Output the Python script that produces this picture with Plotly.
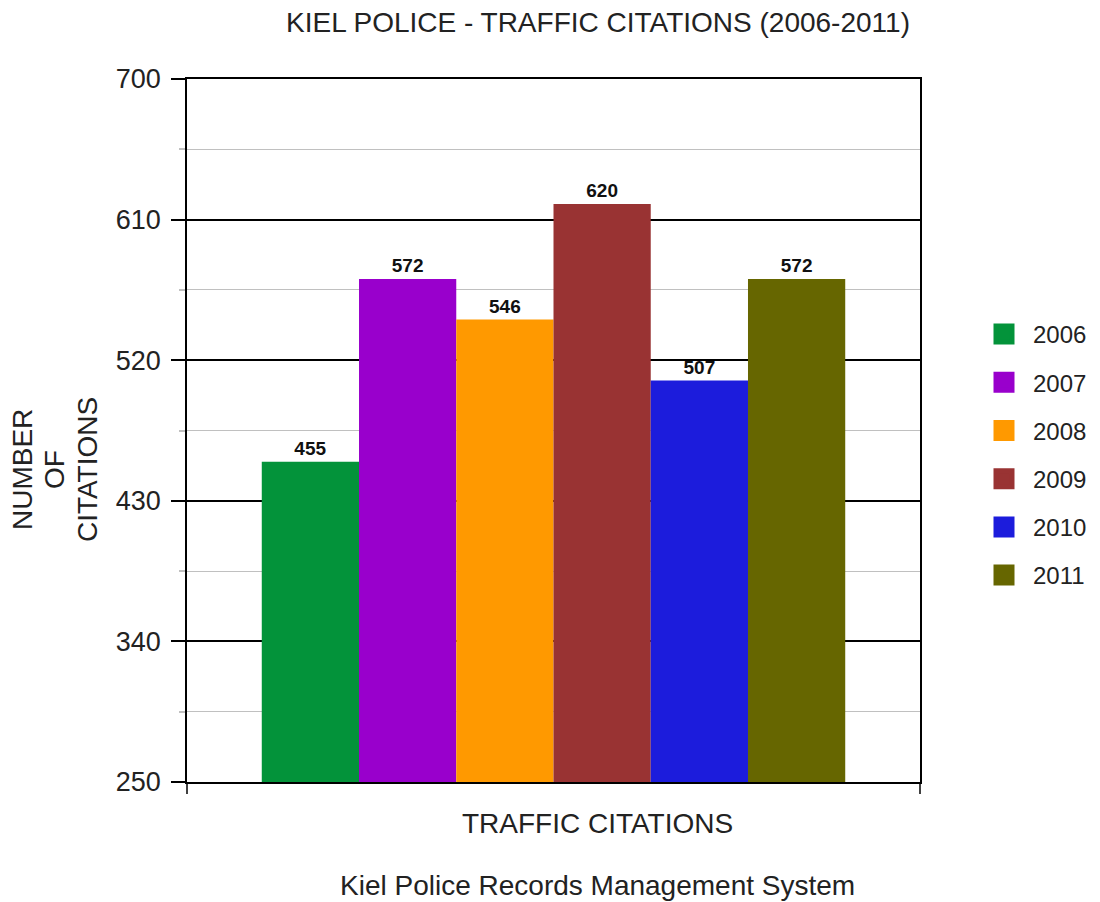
import plotly.graph_objects as go

years = ["2006", "2007", "2008", "2009", "2010", "2011"]
citations = [455, 572, 546, 620, 507, 572]
colors = ["#03933a", "#9900cc", "#ff9900", "#993333", "#1c1cdc", "#666600"]
category = ["TRAFFIC CITATIONS"]
y_ticks = [250, 340, 430, 520, 610, 700]
y_title_lines = ["NUMBER", "OF", "CITATIONS"]

FONT = "Liberation Sans, Arial, sans-serif"
TXT = "#222222"

W, H = 1100, 902
L, R, T, B = 187, 180, 79, 120
pw, ph = W - L - R, H - T - B

def px_to_paper_x(px):
    return (px - L) / pw

def px_to_paper_y(py):
    return (H - B - py) / ph

fig = go.Figure()
for yr, val, col in zip(years, citations, colors):
    fig.add_trace(go.Bar(
        name=yr, x=category, y=[val], marker=dict(color=col, line=dict(width=0)),
        text=[str(val)], textposition="outside", cliponaxis=False,
        textfont=dict(family=FONT, size=19, color="#111111", weight="bold"),
        legendgroup=yr, showlegend=False,
    ))
# legend entries (bigger square swatches)
for yr, col in zip(years, colors):
    fig.add_trace(go.Scatter(
        name=yr, x=[None], y=[None], mode="markers", legendgroup=yr,
        marker=dict(symbol="square", size=16, color=col, line=dict(color=col, width=5)),
        hoverinfo="skip",
    ))

fig.update_layout(
    width=W, height=H,
    margin=dict(l=L, r=R, t=T, b=B, pad=0, autoexpand=False),
    paper_bgcolor="white", plot_bgcolor="white",
    barmode="group", bargap=0.204, bargroupgap=0,
    font=dict(family=FONT, color=TXT),
    title=dict(text="KIEL POLICE - TRAFFIC CITATIONS (2006-2011)",
               font=dict(family=FONT, size=28, color=TXT),
               x=598 / W, xref="container", xanchor="center",
               y=1 - 22 / H, yref="container", yanchor="middle"),
    legend=dict(x=975 / W, xref="container", y=1 - 312 / H, yref="container",
                xanchor="left", yanchor="top",
                font=dict(family=FONT, size=24, color=TXT),
                itemwidth=48, itemsizing="trace",
                tracegroupgap=14, traceorder="grouped", bgcolor="rgba(0,0,0,0)"),
    showlegend=True,
)

fig.update_xaxes(
    showline=True, linecolor="black", linewidth=1.5, mirror=True,
    showgrid=False, ticks="", showticklabels=False,
)
fig.update_yaxes(
    range=[250, 700], tickvals=y_ticks, ticktext=[str(v) for v in y_ticks],
    showline=True, linecolor="black", linewidth=1.5, mirror=True,
    showgrid=True, gridcolor="black", gridwidth=1.5,
    ticks="outside", ticklen=14, tickcolor="black", tickwidth=1.5,
    ticklabelstandoff=5,
    tickfont=dict(family=FONT, size=27, color=TXT),
    minor=dict(dtick=45, tick0=250, showgrid=True, gridcolor="#c0c0c0", gridwidth=1.2,
               ticks="outside", ticklen=6, tickcolor="#c0c0c0"),
    zeroline=False,
)

# small axis extensions below the plot frame
for xp in (0, 1):
    fig.add_shape(type="line", xref="paper", yref="paper", x0=xp, x1=xp,
                  y0=0, y1=-12 / ph, line=dict(color="black", width=1.5))

# y-axis title, one rotated line per annotation
for line, xpix in zip(y_title_lines, (23, 55, 88)):
    fig.add_annotation(text=line, textangle=-90,
                       xref="paper", yref="paper", x=px_to_paper_x(xpix), y=px_to_paper_y(470),
                       xanchor="center", yanchor="middle", showarrow=False,
                       font=dict(family=FONT, size=28, color=TXT))

# category label (x-axis title)
fig.add_annotation(text=category[0],
                   xref="paper", yref="paper", x=px_to_paper_x(597), y=px_to_paper_y(823),
                   xanchor="center", yanchor="middle", showarrow=False,
                   font=dict(family=FONT, size=28, color=TXT))
fig.add_annotation(text="Kiel Police Records Management System",
                   xref="paper", yref="paper", x=px_to_paper_x(597), y=px_to_paper_y(885),
                   xanchor="center", yanchor="middle", showarrow=False,
                   font=dict(family=FONT, size=28, color=TXT))

fig.write_html(
    "out.html",
    config={"displayModeBar": False},
    post_script="document.body.style.margin='0px';document.body.style.overflow='hidden';",
)
